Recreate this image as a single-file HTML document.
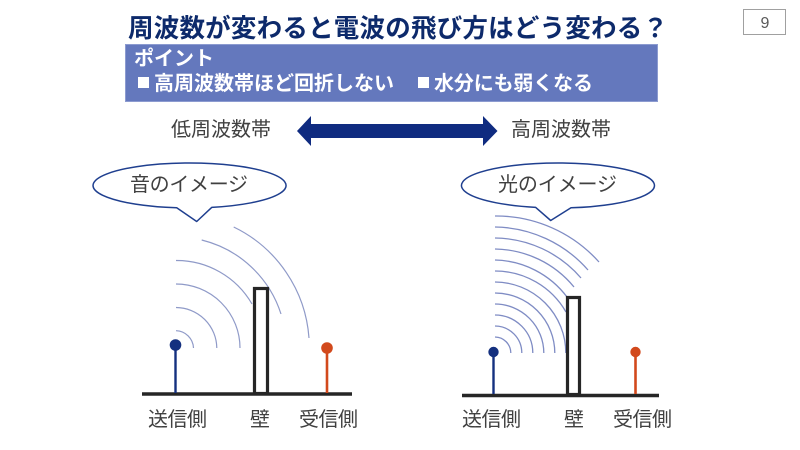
<!DOCTYPE html>
<html lang="ja">
<head>
<meta charset="utf-8">
<style>
html,body{margin:0;padding:0;background:#fff;width:800px;height:450px;overflow:hidden}
svg{display:block}
text{font-family:"Liberation Sans","Noto Sans CJK JP",sans-serif}
.l{font-size:20px;fill:#404040;font-weight:400}
.w{font-size:20px;fill:#fff;font-weight:700}
.a{fill:none;stroke:#8f9ac8;stroke-width:1.2}
.b{fill:none;stroke:#7f8cc4;stroke-width:1.3}
</style>
</head>
<body>
<svg width="800" height="450" viewBox="0 0 800 450" xmlns="http://www.w3.org/2000/svg">
<rect width="800" height="450" fill="#fff"/>
<text x="128" y="37" font-size="25.5" font-weight="700" fill="#0d2a6b" textLength="540" lengthAdjust="spacing">周波数が変わると電波の飛び方はどう変わる？</text>
<rect x="743.5" y="9.5" width="42" height="25" fill="#fff" stroke="#a0a0a0" stroke-width="1"/>
<text x="765" y="28" font-size="16" fill="#595959" text-anchor="middle">9</text>

<rect x="125.5" y="44.5" width="532" height="57" fill="#6478bd" stroke="#8c9bd0" stroke-width="1"/>
<text class="w" x="134" y="65" textLength="80">ポイント</text>
<rect x="138" y="77" width="11" height="11" fill="#fff"/>
<text class="w" x="154" y="90" textLength="240">高周波数帯ほど回折しない</text>
<rect x="418" y="77" width="11" height="11" fill="#fff"/>
<text class="w" x="434" y="90" textLength="159">水分にも弱くなる</text>

<text class="l" x="171" y="136" textLength="100">低周波数帯</text>
<text class="l" x="511" y="136" textLength="100">高周波数帯</text>
<polygon points="297,131 311,116 311,124 483,124 483,116 497.5,131 483,146 483,138 311,138 311,146" fill="#0f2b80"/>

<!-- Left diagram -->
<path d="M176.7 207.8 A96.5 22.5 0 1 1 211.7 207.4 L196.7 221.5 Z" fill="#fff" stroke="#1f3f8f" stroke-width="1.5" stroke-linejoin="round"/>
<text class="l" x="130" y="191" textLength="118">音のイメージ</text>
<g>
<path class="a" d="M176 330.7 A18 18 0 0 1 193.5 348"/>
<path class="a" d="M176 307.5 A41 41 0 0 1 216.8 348"/>
<path class="a" d="M176 284 A64 64 0 0 1 240 348"/>
<path class="a" d="M176 260.5 A87 87 0 0 1 252 304"/>
<path class="a" d="M201.7 240 A111 111 0 0 1 281 314"/>
<path class="a" d="M233.7 227 A134 134 0 0 1 309 338"/>
</g>
<rect x="254.5" y="288.5" width="13" height="105" fill="none" stroke="#262626" stroke-width="3.2"/>
<line x1="142" y1="394" x2="352" y2="394" stroke="#262626" stroke-width="3.4"/>
<line x1="175.5" y1="345" x2="175.5" y2="393" stroke="#14307f" stroke-width="2.4"/>
<circle cx="175.5" cy="345" r="5.8" fill="#14307f"/>
<line x1="327" y1="348" x2="327" y2="393" stroke="#d2491c" stroke-width="2.6"/>
<circle cx="327" cy="348" r="5.8" fill="#d2491c"/>
<text class="l" x="148" y="426" textLength="59">送信側</text>
<text class="l" x="250" y="426" textLength="20">壁</text>
<text class="l" x="299" y="426" textLength="59">受信側</text>

<!-- Right diagram -->
<path d="M535.7 207.4 A96.5 22.5 0 1 1 571 207.8 L550.7 220.5 Z" fill="#fff" stroke="#1f3f8f" stroke-width="1.5" stroke-linejoin="round"/>
<text class="l" x="498" y="191" textLength="119">光のイメージ</text>
<g>
<path class="b" d="M495 337 A16 16 0 0 1 510.8 353"/>
<path class="b" d="M495 326 A27 27 0 0 1 521.8 353"/>
<path class="b" d="M495 315 A38 38 0 0 1 532.8 353"/>
<path class="b" d="M495 304 A49 49 0 0 1 543.8 353"/>
<path class="b" d="M495 293 A60 60 0 0 1 554.8 353"/>
<path class="b" d="M495 282 A71 71 0 0 1 565.8 353"/>
<path class="b" d="M495 271 A82 82 0 0 1 566 312"/>
<path class="b" d="M495 260 A93 93 0 0 1 567 297"/>
<path class="b" d="M495 249 A104 104 0 0 1 574 287"/>
<path class="b" d="M495 238 A115 115 0 0 1 581 278"/>
<path class="b" d="M495 227 A126 126 0 0 1 588 270"/>
<path class="b" d="M495 216 A138 138 0 0 1 599 262"/>
</g>
<rect x="567.5" y="297.5" width="12" height="97" fill="none" stroke="#262626" stroke-width="3.2"/>
<line x1="462" y1="395.5" x2="659" y2="395.5" stroke="#262626" stroke-width="3.4"/>
<line x1="493.5" y1="352" x2="493.5" y2="394" stroke="#14307f" stroke-width="2.4"/>
<circle cx="493.5" cy="352" r="5.2" fill="#14307f"/>
<line x1="635.5" y1="352" x2="635.5" y2="394" stroke="#d2491c" stroke-width="2.6"/>
<circle cx="635.5" cy="352" r="5.2" fill="#d2491c"/>
<text class="l" x="462" y="426" textLength="59">送信側</text>
<text class="l" x="564" y="426" textLength="20">壁</text>
<text class="l" x="613" y="426" textLength="59">受信側</text>
</svg>
</body>
</html>
